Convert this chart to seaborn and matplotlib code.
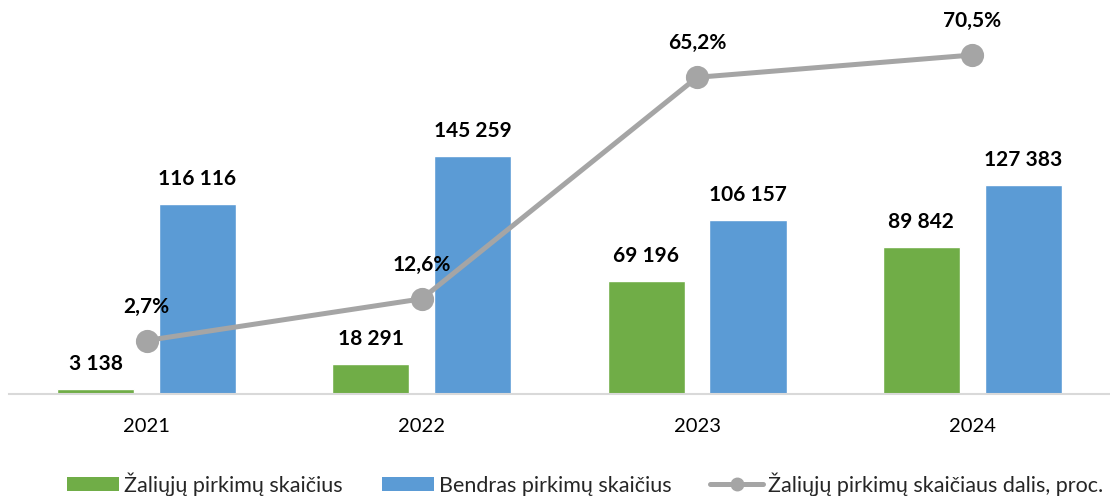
import matplotlib
matplotlib.use("Agg")
import matplotlib.pyplot as plt
from matplotlib.lines import Line2D
from matplotlib.patches import Patch
import seaborn as sns
import pandas as pd

years = ["2021", "2022", "2023", "2024"]
green_counts = [3138, 18291, 69196, 89842]
total_counts = [116116, 145259, 106157, 127383]
green_share = [2.7, 12.6, 65.2, 70.5]
series_names = ["Žaliųjų pirkimų skaičius", "Bendras pirkimų skaičius"]
line_name = "Žaliųjų pirkimų skaičiaus dalis, proc."

GREEN = "#70AD47"
BLUE = "#5B9BD5"
GRAY = "#A5A5A5"

sns.set_theme(style="white")
plt.rcParams["font.family"] = ["Lato", "DejaVu Sans"]

df = pd.DataFrame({
    "year": years * 2,
    "series": [series_names[0]] * 4 + [series_names[1]] * 4,
    "value": green_counts + total_counts,
})

fig = plt.figure(figsize=(11.1, 5.0), dpi=100)
ax = fig.add_axes([0.008, 0.212, 0.992, 0.758])

sns.barplot(data=df, x="year", y="value", hue="series", order=years,
            hue_order=series_names, palette=[GREEN, BLUE], width=0.74,
            gap=0.243, saturation=1, ax=ax, legend=False, errorbar=None)
ax.set_ylim(0, 231500)
ax.set_xlim(-0.5, 3.5)

for cont in ax.containers:
    for bar in cont:
        h = bar.get_height()
        ax.annotate(f"{int(round(h)):,}".replace(",", " "),
                    xy=(bar.get_x() + bar.get_width() / 2, h),
                    xytext=(0, 18), textcoords="offset points",
                    ha="center", va="center", fontsize=15, fontweight="bold",
                    color="black")

ax2 = ax.twinx()
sns.pointplot(x=years, y=green_share, order=years, color=GRAY, markers="o",
              markersize=14, linewidth=3.6, ax=ax2, errorbar=None)
ax2.set_ylim(-10, 80)
ax2.set_xlim(-0.5, 3.5)
for i, v in enumerate(green_share):
    ax2.annotate(f"{v:.1f}%".replace(".", ","), xy=(i, v), xytext=(0, 24.5),
                 textcoords="offset points", ha="center", va="center",
                 fontsize=15, fontweight="bold", color="black")

for a in (ax, ax2):
    for s in ["top", "left", "right"]:
        a.spines[s].set_visible(False)
    a.set_yticks([])
    a.set_ylabel("")
    a.set_xlabel("")
ax2.spines["bottom"].set_visible(False)
ax.spines["bottom"].set_color("#D9D9D9")
ax.spines["bottom"].set_linewidth(1.5)
ax.tick_params(axis="x", length=0, pad=17, labelsize=14.5, colors="black")

handles = [Patch(facecolor=GREEN, edgecolor="none"),
           Patch(facecolor=BLUE, edgecolor="none"),
           Line2D([0], [0], color=GRAY, lw=3.6, marker="o", markersize=9)]
fig.legend(handles, series_names + [line_name], loc="lower center",
           bbox_to_anchor=(0.527, -0.03), ncol=3, frameon=False, fontsize=15.5,
           handlelength=2.42, handleheight=0.6, handletextpad=0.25,
           columnspacing=1.8)

fig.savefig("out.png", dpi=100)
